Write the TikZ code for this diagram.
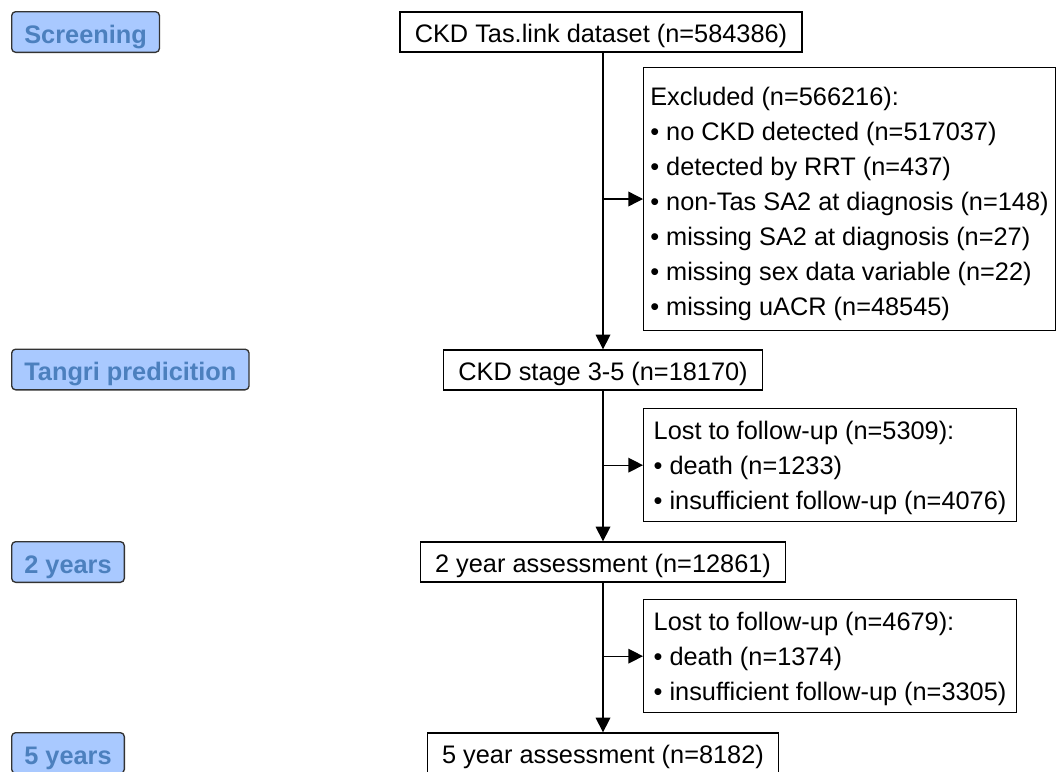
\documentclass[tikz,border=0pt]{standalone}
\usepackage{fontspec}
\setmainfont{Liberation Sans}
\definecolor{stagefill}{RGB}{169,201,255}
\definecolor{stagetext}{RGB}{76,128,190}
\usetikzlibrary{arrows.meta}

\begin{document}
\begin{tikzpicture}[x=0.75pt,y=-0.75pt,
  flowbox/.style={draw,line width=1pt,minimum height=30pt,inner xsep=11pt,inner ysep=0pt,
    text height=15.8pt,text depth=0pt,font=\fontsize{19}{22}\selectfont},
  sidebox/.style={draw,line width=1pt,anchor=north west,align=left,inner xsep=5pt,
    font=\fontsize{19}{26.25}\selectfont},
  stagebox/.style={draw=black!80,line width=1pt,rounded corners=3pt,fill=stagefill,
    text=stagetext,anchor=west,minimum height=30.5pt,inner xsep=9.5pt,inner ysep=0pt,
    text height=16.5pt,text depth=0pt,font=\fontsize{19}{22}\selectfont\bfseries},
  flow/.style={line width=1pt,-{Triangle[length=11pt,width=11pt]}}]
  \useasboundingbox (0,0) rectangle (1062,771);
  % stage labels on the left
  \node[stagebox] (lblscreen) at (11,32) {Screening};
  \node[stagebox] (lbltangri) at (11,369.5) {Tangri predicition};
  \node[stagebox] (lbltwo) at (11,562) {2 years};
  \node[stagebox] (lblfive) at (11,753) {5 years};
  % main flow
  \node[flowbox] (dataset) at (601,32) {CKD Tas.link dataset (n=584386)};
  \node[flowbox] (stage) at (603,370) {CKD stage 3-5 (n=18170)};
  \node[flowbox] (twoyr) at (603,562) {2 year assessment (n=12861)};
  \node[flowbox] (fiveyr) at (603,753) {5 year assessment (n=8182)};
  % exclusions
  \node[sidebox,minimum height=197pt] (excl) at (643,67) {\rule{0pt}{21.5pt}Excluded (n=566216):\\
    • no CKD detected (n=517037)\\
    • detected by RRT (n=437)\\
    • non-Tas SA2 at diagnosis (n=148)\\
    • missing SA2 at diagnosis (n=27)\\
    • missing sex data variable (n=22)\\
    • missing uACR (n=48545)};
  \node[sidebox,minimum height=84.75pt,inner xsep=7.5pt] (lost1) at (643,408) {\rule{0pt}{18.4pt}Lost to follow-up (n=5309):\\
    • death (n=1233)\\
    • insufficient follow-up (n=4076)};
  \node[sidebox,minimum height=84.75pt,inner xsep=7.5pt] (lost2) at (643,599) {\rule{0pt}{18.4pt}Lost to follow-up (n=4679):\\
    • death (n=1374)\\
    • insufficient follow-up (n=3305)};
  % connectors
  \draw[flow] (stage.north |- dataset.south) -- (stage.north);
  \draw[flow] (stage.south) -- (twoyr.north);
  \draw[flow] (twoyr.south) -- (fiveyr.north);
  \draw[flow] (stage.north |- excl.west) -- (excl.west);
  \draw[flow] (stage.south |- lost1.west) -- (lost1.west);
  \draw[flow] (twoyr.south |- lost2.west) -- (lost2.west);
\end{tikzpicture}
\end{document}
